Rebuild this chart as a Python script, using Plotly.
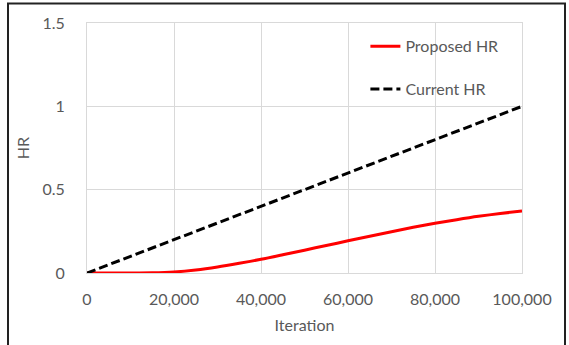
import plotly.graph_objects as go

iterations = [0, 5000, 10000, 15000, 20000, 25000, 30000, 35000, 40000, 45000, 50000,
              55000, 60000, 65000, 70000, 75000, 80000, 85000, 90000, 95000, 100000]
proposed_hr = [0.0, 0.0, 0.0, 0.001, 0.006, 0.018, 0.036, 0.058, 0.082, 0.109, 0.137,
               0.165, 0.193, 0.221, 0.248, 0.274, 0.298, 0.320, 0.340, 0.357, 0.372]
current_iter = [0, 10000, 20000, 30000, 40000, 50000, 60000, 70000, 80000, 90000, 100000]
current_hr = [0.0, 0.1, 0.2, 0.3, 0.4, 0.5, 0.6, 0.7, 0.8, 0.9, 1.0]

x_ticks = [0, 20000, 40000, 60000, 80000, 100000]
x_tick_labels = ["0", "20,000", "40,000", "60,000", "80,000", "100,000"]
y_ticks = [0, 0.5, 1, 1.5]
y_tick_labels = ["0", "0.5", "1", "1.5"]

FONT = "Lato"
GRAY = "#595959"
GRID = "#d9d9d9"

fig = go.Figure()
fig.add_trace(go.Scatter(x=iterations, y=proposed_hr, mode="lines", name="Proposed HR",
                         line=dict(color="#ff0000", width=3, shape="spline", smoothing=0.8),
                         legendgroup="a"))
fig.add_trace(go.Scatter(x=current_iter, y=current_hr, mode="lines", name="Current HR",
                         line=dict(color="#000000", width=3, dash="9px,4px"),
                         legendgroup="b"))

fig.update_layout(
    width=569, height=345,
    margin=dict(l=87, r=47, t=23, b=72),
    paper_bgcolor="white", plot_bgcolor="white",
    font=dict(family=FONT, size=16, color=GRAY),
    showlegend=True,
    legend=dict(x=0.64, y=0.975, xanchor="left", yanchor="top",
                bgcolor="rgba(0,0,0,0)", traceorder="grouped", tracegroupgap=19,
                font=dict(family=FONT, size=16, color=GRAY), itemwidth=30),
    xaxis=dict(range=[0, 100000], tickvals=x_ticks, ticktext=x_tick_labels,
               showgrid=True, gridcolor=GRID, gridwidth=1, zeroline=False,
               showline=True, linecolor=GRID, linewidth=1, mirror=True,
               ticks="", ticklabelstandoff=12,
               title=dict(text="Iteration", font=dict(family=FONT, size=16, color=GRAY), standoff=12)),
    yaxis=dict(range=[0, 1.5], tickvals=y_ticks, ticktext=y_tick_labels,
               showgrid=True, gridcolor=GRID, gridwidth=1, zeroline=False,
               showline=True, linecolor=GRID, linewidth=1, mirror=True,
               ticks="", ticklabelstandoff=18,
               title=dict(text="HR", font=dict(family=FONT, size=16, color=GRAY), standoff=8)),
    shapes=[dict(type="rect", xref="paper", yref="paper",
                 x0=(8 - 87) / 435, x1=(565 - 87) / 435,
                 y0=(273 - 352) / 250, y1=(273 - 3.5) / 250,
                 line=dict(color="#222222", width=2), fillcolor="rgba(0,0,0,0)", layer="below")],
)

fig.write_html("out.html")
